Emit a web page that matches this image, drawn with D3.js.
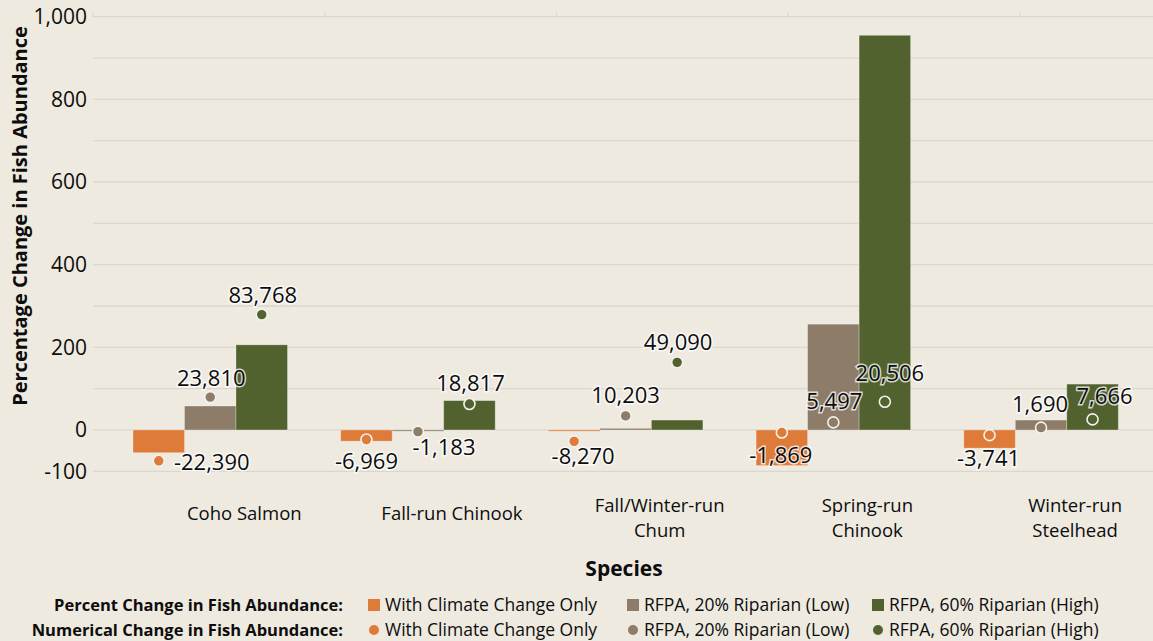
<!DOCTYPE html>
<html>
<head>
<meta charset="utf-8">
<script src="https://cdn.jsdelivr.net/npm/d3@7"></script>
<style>
  html, body { margin: 0; padding: 0; background: #EEEAE0; }
  svg { display: block; font-family: "Open Sans", sans-serif; }
</style>
</head>
<body>
<div id="container"></div>
<script>
// categories and series
var species = ["Coho Salmon", "Fall-run Chinook", "Fall/Winter-run Chum", "Spring-run Chinook", "Winter-run Steelhead"];
var speciesLines = [["Coho Salmon"], ["Fall-run Chinook"], ["Fall/Winter-run", "Chum"], ["Spring-run", "Chinook"], ["Winter-run", "Steelhead"]];
var seriesNames = ["With Climate Change Only", "RFPA, 20% Riparian (Low)", "RFPA, 60% Riparian (High)"];

// percent change (bars), one array per series
var pctClimate = [-55, -27, -3, -86, -44];
var pctLow = [58, -3, 4, 256, 24];
var pctHigh = [206, 71, 24, 955, 111];

// numerical change (dots)
var numClimate = [-22390, -6969, -8270, -1869, -3741];
var numLow = [23810, -1183, 10203, 5497, 1690];
var numHigh = [83768, 18817, 49090, 20506, 7666];

var yTicks = [-100, 0, 200, 400, 600, 800, 1000];

// where each number label sits relative to its dot (moved by hand in the original)
var labelOffsets = [
  [[53, 1], [1, -19], [1, -19]],
  [[0, 22], [26, 16], [1, -21]],
  [[9, 15], [0, -21], [1, -20]],
  [[-1, 23], [1, -21], [5, -28]],
  [[-1, 23], [-1, -23], [12, -23]]
];

var colors = ["#DF7B39", "#8D7C68", "#51622E"];

var width = 1153,
    height = 641;

var pct = [pctClimate, pctLow, pctHigh];
var num = [numClimate, numLow, numHigh];

// plain hyphen for negatives, like the original
var fmt = d3.formatLocale({ decimal: ".", thousands: ",", grouping: [3], currency: ["", ""], minus: "-" }).format(",");

var svg = d3.select("#container").append("svg")
    .attr("width", width)
    .attr("height", height);

svg.append("rect")
    .attr("width", width)
    .attr("height", height)
    .attr("fill", "#EEEAE0");

var y = d3.scaleLinear().domain([-100, 1000]).range([471.3, 16.7]);
// secondary axis for the dots (hidden)
var y2 = d3.scaleLinear().domain([-30000, 300000]).range([471.3, 16.7]);

var x0 = d3.scaleBand().domain(species).range([106.4, 1144.9]).padding(0);
var groupW = 154.5;
var x1 = d3.scaleBand().domain([0, 1, 2]).range([0, groupW]).padding(0);

// gridlines every 100
var grid = svg.append("g");
grid.selectAll("line")
    .data(d3.range(-100, 1001, 100))
    .enter().append("line")
    .attr("x1", 93)
    .attr("x2", width)
    .attr("y1", function(d) { return y(d); })
    .attr("y2", function(d) { return y(d); })
    .attr("stroke", "#D9D7D0")
    .attr("stroke-width", 1.3);

// little tick marks along the top (secondary horizontal axis)
var xTop = d3.scaleLinear().domain([0, 4]).range([93, 1020]);
svg.append("g")
    .selectAll("line")
    .data([0, 1, 2, 3, 4])
    .enter().append("line")
    .attr("x1", function(d) { return xTop(d); })
    .attr("x2", function(d) { return xTop(d); })
    .attr("y1", y(1000) - 4)
    .attr("y2", y(1000))
    .attr("stroke", "#D9D7D0")
    .attr("stroke-width", 1.3);

// y tick labels
svg.append("g")
    .selectAll("text")
    .data(yTicks)
    .enter().append("text")
    .attr("x", 87)
    .attr("y", function(d) { return y(d); })
    .attr("dy", "0.35em")
    .attr("text-anchor", "end")
    .attr("font-size", 21)
    .attr("fill", "#0d0d0d")
    .text(fmt);

// y axis title
svg.append("text")
    .attr("transform", "translate(27,216) rotate(-90)")
    .attr("text-anchor", "middle")
    .attr("font-size", 20)
    .attr("font-weight", "bold")
    .attr("fill", "#0d0d0d")
    .text("Percentage Change in Fish Abundance");

// bars
var groups = svg.append("g")
    .selectAll(".group")
    .data(species)
    .enter().append("g")
    .attr("class", "group")
    .attr("transform", function(d) {
        return "translate(" + (x0(d) + x0.bandwidth() / 2 - groupW / 2) + ",0)";
    });

groups.selectAll("rect")
    .data(function(d, i) { return [0, 1, 2].map(function(s) { return { s: s, v: pct[s][i] }; }); })
    .enter().append("rect")
    .attr("x", function(d) { return x1(d.s); })
    .attr("width", x1.bandwidth())
    .attr("y", function(d) { return Math.min(y(d.v), y(0)); })
    .attr("height", function(d) { return Math.max(1, Math.abs(y(d.v) - y(0))); })
    .attr("fill", function(d) { return colors[d.s]; })
    .attr("stroke", "rgba(255,255,255,0.35)")
    .attr("stroke-width", 0.8);

// dots and number labels
var dotData = [];
species.forEach(function(sp, i) {
    [0, 1, 2].forEach(function(s) {
        dotData.push({ i: i, s: s, v: num[s][i],
            x: x0(sp) + x0.bandwidth() / 2 - groupW / 2 + x1(s) + x1.bandwidth() / 2 });
    });
});

svg.append("g")
    .selectAll("circle")
    .data(dotData)
    .enter().append("circle")
    .attr("cx", function(d) { return d.x; })
    .attr("cy", function(d) { return y2(d.v); })
    .attr("r", 5.5)
    .attr("fill", function(d) { return colors[d.s]; })
    .attr("stroke", "#F4F2EC")
    .attr("stroke-width", 1.6);

svg.append("g")
    .selectAll("text")
    .data(dotData)
    .enter().append("text")
    .attr("x", function(d) { return d.x + labelOffsets[d.i][d.s][0]; })
    .attr("y", function(d) { return y2(d.v) + labelOffsets[d.i][d.s][1]; })
    .attr("dy", "0.35em")
    .attr("text-anchor", "middle")
    .attr("font-size", 22)
    .attr("fill", "#0d0d0d")
    .attr("stroke", "rgba(255,255,255,0.75)")
    .attr("stroke-width", 3)
    .attr("paint-order", "stroke")
    .text(function(d) { return fmt(d.v); });

// category labels
var cat = svg.append("g")
    .selectAll("text")
    .data(species)
    .enter().append("text")
    .attr("text-anchor", "middle")
    .attr("font-size", 18.5)
    .attr("fill", "#0d0d0d")
    .attr("transform", function(d) {
        return "translate(" + (x0(d) + x0.bandwidth() / 2 + 34) + ",0)";
    });

cat.selectAll("tspan")
    .data(function(d, i) {
        var lines = speciesLines[i];
        return lines.map(function(l, k) { return { t: l, yy: lines.length == 1 ? 514 : 506 + k * 25 }; });
    })
    .enter().append("tspan")
    .attr("x", 0)
    .attr("y", function(d) { return d.yy; })
    .attr("dy", "0.35em")
    .text(function(d) { return d.t; });

// x axis title
svg.append("text")
    .attr("x", 624)
    .attr("y", 569)
    .attr("dy", "0.35em")
    .attr("text-anchor", "middle")
    .attr("font-size", 21)
    .attr("font-weight", "bold")
    .attr("fill", "#0d0d0d")
    .text("Species");

// legend
var legendRows = [
    { title: "Percent Change in Fish Abundance:", shape: "square", y: 605 },
    { title: "Numerical Change in Fish Abundance:", shape: "circle", y: 630 }
];
var itemX = [374, 633, 878];

legendRows.forEach(function(row) {
    svg.append("text")
        .attr("x", 343)
        .attr("y", row.y)
        .attr("dy", "0.35em")
        .attr("text-anchor", "end")
        .attr("font-size", 16.5)
        .attr("font-weight", "bold")
        .attr("fill", "#0d0d0d")
        .text(row.title);

    seriesNames.forEach(function(name, s) {
        if (row.shape == "square") {
            svg.append("rect")
                .attr("x", itemX[s] - 6)
                .attr("y", row.y - 6)
                .attr("width", 12)
                .attr("height", 12)
                .attr("fill", colors[s]);
        } else {
            svg.append("circle")
                .attr("cx", itemX[s])
                .attr("cy", row.y)
                .attr("r", 5)
                .attr("fill", colors[s]);
        }
        svg.append("text")
            .attr("x", itemX[s] + 11)
            .attr("y", row.y)
            .attr("dy", "0.35em")
            .attr("font-size", 17.5)
            .attr("fill", "#0d0d0d")
            .text(name);
    });
});
</script>
</body>
</html>
